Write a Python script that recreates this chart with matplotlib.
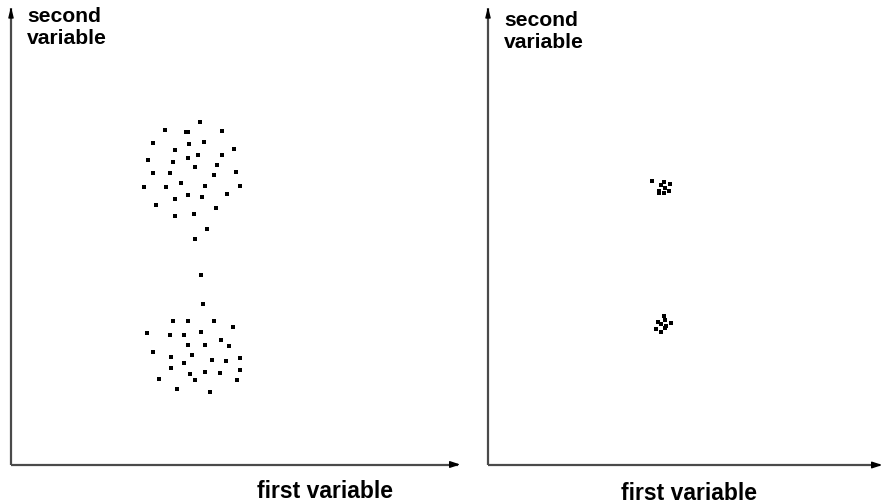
import matplotlib
matplotlib.use("Agg")
import matplotlib.pyplot as plt
import numpy as np

# Left panel: widely scattered two clusters (x, y in data units; y up)
left_x = [189.3, 154.0, 175.0, 177.0, 210.7, 142.0, 178.3, 193.0, 223.0, 164.3,
          136.7, 162.0, 177.3, 187.0, 211.3, 206.3, 184.3, 142.0, 159.0, 203.3,
          224.7, 132.7, 155.0, 170.0, 194.3, 229.3, 164.0, 177.3, 190.7, 216.0,
          145.3, 205.3, 164.0, 183.3, 196.3, 184.3,
          190.3, 191.7, 162.3, 177.3, 202.7, 222.3, 136.0, 159.0, 173.3, 190.3,
          210.0, 177.3, 194.3, 218.3, 141.7, 160.0, 180.7, 201.3, 215.0, 229.3,
          173.3, 160.0, 179.0, 194.3, 208.7, 229.3, 148.3, 184.3, 225.7, 166.3,
          199.0]
left_y = [342.2, 334.8, 332.2, 332.2, 333.5, 321.2, 320.2, 322.5, 315.2, 314.2,
          304.2, 302.2, 306.8, 309.5, 309.5, 299.8, 297.2, 291.2, 291.2, 289.2,
          292.5, 277.5, 277.5, 281.5, 278.8, 278.8, 265.5, 269.2, 267.8, 270.5,
          259.2, 256.8, 248.5, 250.8, 235.2, 225.5,
          189.8, 160.8, 143.8, 143.8, 143.8, 137.5, 131.8, 129.2, 129.2, 132.5,
          124.5, 119.5, 119.5, 118.2, 112.2, 107.2, 109.5, 104.8, 103.8, 106.2,
          101.2, 96.5, 90.2, 92.8, 91.5, 94.2, 85.5, 84.5, 84.5, 75.8,
          72.2]

# Right panel: the same two clusters, tightly packed
right_x = [163.7, 175.7, 182.0, 173.3, 177.3, 171.0, 171.0, 180.7, 175.7,
           175.7, 177.0, 169.7, 183.3, 173.3, 178.3, 168.3, 177.0, 172.7]
right_y = [284.3, 283.0, 280.7, 279.7, 277.3, 274.3, 272.3, 274.3, 272.0,
           149.3, 144.7, 143.3, 142.0, 141.3, 139.0, 136.3, 136.7, 132.7]

x_label = "first variable"
y_label = "second\nvariable"

W, H = 882, 504
fig = plt.figure(figsize=(W / 100, H / 100), dpi=100)
fig.patch.set_facecolor("white")

FONT = ["Liberation Sans", "DejaVu Sans"]
axis_color = "#4a4a4a"


def make_panel(x0, x1, y_top, y_bot, xs, ys, arrow_x=True):
    ax = fig.add_axes([x0 / W, 1 - y_bot / H, (x1 - x0) / W, (y_bot - y_top) / H])
    ax.set_xlim(0, x1 - x0)
    ax.set_ylim(0, y_bot - y_top)
    ax.axis("off")
    ax.plot(xs, ys, linestyle="none", marker="s", markersize=2.2,
            color="black", markeredgewidth=0)
    # axes lines
    ax.plot([0, 0], [0, y_bot - y_top - 3], color=axis_color, lw=1.6,
            solid_capstyle="butt", clip_on=False)
    ax.plot([0, x1 - x0 - 4], [0, 0], color=axis_color, lw=1.6,
            solid_capstyle="butt", clip_on=False)
    # arrow heads
    ax.annotate("", xy=(0, y_bot - y_top + 1), xytext=(0, y_bot - y_top - 10),
                arrowprops=dict(arrowstyle="-|>,head_length=0.6,head_width=0.15",
                                color="black", lw=1.0), annotation_clip=False)
    if arrow_x:
        ax.annotate("", xy=(x1 - x0 + 1, 0), xytext=(x1 - x0 - 12, 0),
                    arrowprops=dict(arrowstyle="-|>,head_length=0.6,head_width=0.2",
                                    color="black", lw=1.0), annotation_clip=False)
    return ax


make_panel(11, 462, 5, 464.5, left_x, left_y, arrow_x=True)
make_panel(488, 884, 5, 465, right_x, right_y, arrow_x=True)

fig.text(27 / W, 1 - 7 / H, y_label, ha="left", va="top", fontsize=15.2,
         fontweight="bold", family=FONT, linespacing=1.2)
fig.text(504 / W, 1 - 11 / H, y_label, ha="left", va="top", fontsize=15.2,
         fontweight="bold", family=FONT, linespacing=1.2)
fig.text(325 / W, 1 - 491 / H, x_label, ha="center", va="center", fontsize=16.5,
         fontweight="bold", family=FONT)
fig.text(689 / W, 1 - 494 / H, x_label, ha="center", va="center", fontsize=16.5,
         fontweight="bold", family=FONT)

fig.savefig("out.png", dpi=100, facecolor="white")
